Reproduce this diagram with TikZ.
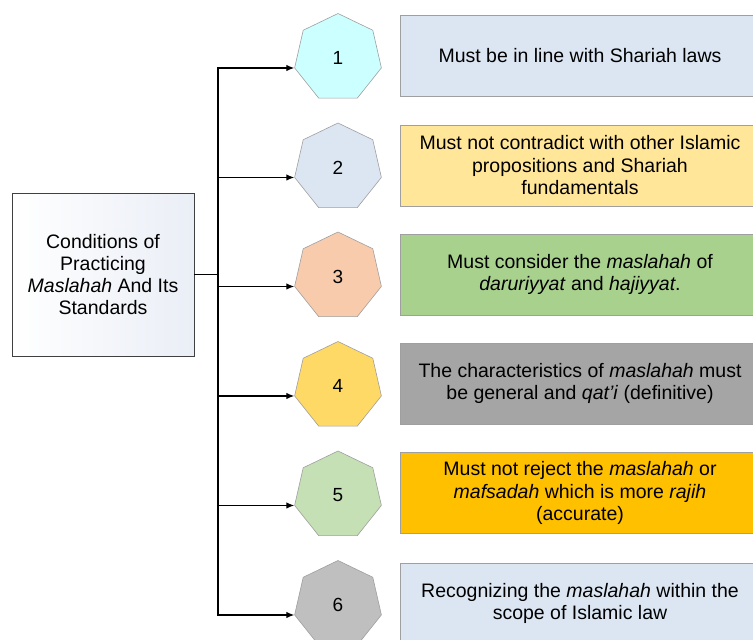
\documentclass[tikz,border=0pt]{standalone}
\usepackage{fontspec}
\setmainfont{Liberation Sans}
\usetikzlibrary{shapes.geometric,arrows.meta}
\definecolor{hA}{HTML}{CCFFFF}
\definecolor{hB}{HTML}{DCE6F2}
\definecolor{hC}{HTML}{F8CBAD}
\definecolor{hD}{HTML}{FFD966}
\definecolor{hE}{HTML}{C5E0B4}
\definecolor{hF}{HTML}{BFBFBF}
\definecolor{bA}{HTML}{DCE6F2}
\definecolor{bB}{HTML}{FFE699}
\definecolor{bC}{HTML}{A9D18E}
\definecolor{bD}{HTML}{A5A5A5}
\definecolor{bE}{HTML}{FFC000}
\definecolor{bF}{HTML}{DCE6F2}
\definecolor{mainR}{HTML}{EAEEF6}
\begin{document}
\begin{tikzpicture}[x=1pt,y=-1pt,
  hept/.style={regular polygon, regular polygon sides=7, minimum size=89pt, inner sep=0pt,
    draw=gray!75, line width=0.6pt, font=\fontsize{19}{22}\selectfont},
  cbox/.style={rectangle, minimum width=360pt, minimum height=81pt, inner sep=0pt,
    draw=gray!75, line width=0.6pt, align=center, font=\fontsize{19.5}{22.5}\selectfont},
  mainbox/.style={rectangle, minimum width=182pt, minimum height=163pt, draw=black!75,
    line width=0.8pt, left color=white, right color=mainR, align=center,
    font=\fontsize{19.5}{21.8}\selectfont},
  conn/.style={line width=1.2pt, -{Latex[length=8pt,width=6.5pt]}},
  trunk/.style={line width=1.2pt}]
\useasboundingbox (0,0) rectangle (753,640);
\clip (0,0) rectangle (753,640);

\node[mainbox] (main) at (103,274.5) {Conditions of\\Practicing\\\textit{Maslahah} And Its\\Standards};

\node[hept, fill=hA] (h1) at (338,58) {1};
\node[hept, fill=hB] (h2) at (338,167.5) {2};
\node[hept, fill=hC] (h3) at (338,276.5) {3};
\node[hept, fill=hD] (h4) at (338,386) {4};
\node[hept, fill=hE] (h5) at (338,495.5) {5};
\node[hept, fill=hF] (h6) at (338,605) {6};

\node[cbox, fill=bA] (b1) at (580,56) {Must be in line with Shariah laws};
\node[cbox, fill=bB] (b2) at (580,165.5) {Must not contradict with other Islamic\\propositions and Shariah\\fundamentals};
\node[cbox, fill=bC] (b3) at (580,274.5) {Must consider the \textit{maslahah} of\\\textit{daruriyyat} and \textit{hajiyyat}.};
\node[cbox, fill=bD] (b4) at (580,383.5) {The characteristics of \textit{maslahah} must\\be general and \textit{qat'i} (definitive)};
\node[cbox, fill=bE] (b5) at (580,493) {Must not reject the \textit{maslahah} or\\\textit{mafsadah} which is more \textit{rajih}\\(accurate)};
\node[cbox, fill=bF] (b6) at (580,603.5) {Recognizing the \textit{maslahah} within the\\scope of Islamic law};

\coordinate (j) at (218,274.5);
\draw[trunk] (main.east) -- (j);
\foreach \i in {1,...,6} {
  \draw[conn] (j) |- (h\i.corner 3);
}
\end{tikzpicture}
\end{document}
